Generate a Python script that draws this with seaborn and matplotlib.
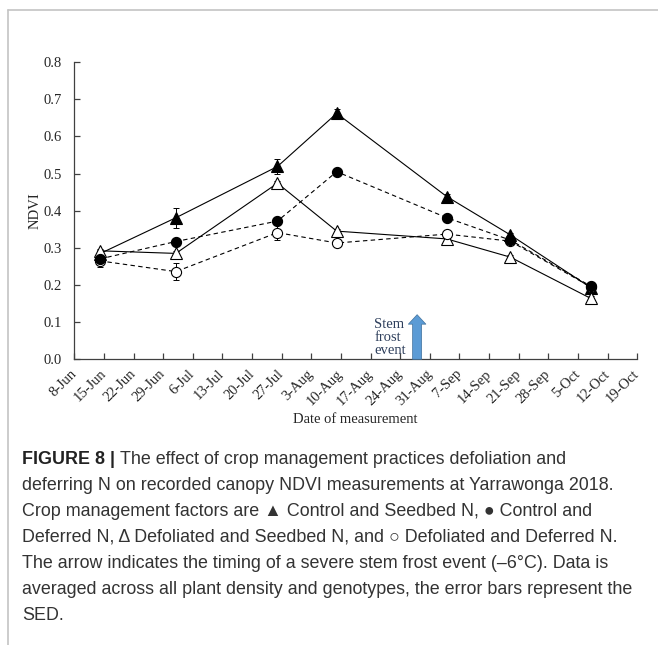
import pandas as pd
import matplotlib.pyplot as plt
import seaborn as sns
from matplotlib.lines import Line2D

dates = pd.to_datetime(['2018-06-14', '2018-07-02', '2018-07-26', '2018-08-09',
                        '2018-09-04', '2018-09-19', '2018-10-08'])

ctrl_seedbed = [0.284, 0.381, 0.519, 0.662, 0.438, 0.335, 0.193]
ctrl_seedbed_err = [0.010, 0.027, 0.021, 0.012, 0.006, 0.006, 0.005]

ctrl_deferred = [0.270, 0.317, 0.372, 0.505, 0.381, 0.321, 0.197]
ctrl_deferred_err = [0.006, 0.006, 0.006, 0.005, 0.005, 0.005, 0.005]

defol_seedbed = [0.292, 0.285, 0.474, 0.345, 0.324, 0.275, 0.164]
defol_seedbed_err = [0.006, 0.006, 0.006, 0.005, 0.005, 0.005, 0.005]

defol_deferred = [0.265, 0.236, 0.341, 0.313, 0.337, 0.318, 0.195]
defol_deferred_err = [0.016, 0.022, 0.020, 0.010, 0.006, 0.006, 0.005]

tick_labels = ['8-Jun', '15-Jun', '22-Jun', '29-Jun', '6-Jul', '13-Jul', '20-Jul',
               '27-Jul', '3-Aug', '10-Aug', '17-Aug', '24-Aug', '31-Aug', '7-Sep',
               '14-Sep', '21-Sep', '28-Sep', '5-Oct', '12-Oct', '19-Oct']

frost_date = pd.Timestamp('2018-08-28')
frost_top = 0.12

sns.set_theme(style='ticks')
plt.rcParams['font.family'] = ['Liberation Serif', 'DejaVu Serif']

fig = plt.figure(figsize=(6.58, 6.45), dpi=100)
ax = fig.add_axes([0.1129, 0.443, 0.8555, 0.4607])

series = [
    (ctrl_seedbed, ctrl_seedbed_err, '^', 'black', '-'),
    (defol_seedbed, defol_seedbed_err, '^', 'white', '-'),
    (defol_deferred, defol_deferred_err, 'o', 'white', (0, (4, 3))),
    (ctrl_deferred, ctrl_deferred_err, 'o', 'black', (0, (4, 3))),
]

for vals, errs, mk, face, ls in series:
    df = pd.DataFrame({'date': dates, 'ndvi': vals})
    ax.errorbar(dates, vals, yerr=errs, fmt='none', ecolor='black',
                elinewidth=0.7, capsize=2.5, capthick=0.7, zorder=2)
    sns.lineplot(data=df, x='date', y='ndvi', ax=ax, color='black', linewidth=0.8,
                 linestyle=ls, marker=mk, markersize=8 if mk == '^' else 7.3,
                 markerfacecolor=face, markeredgecolor='black',
                 markeredgewidth=0.8, errorbar=None, zorder=3)

# frost arrow
ax.annotate('', xy=(frost_date, frost_top), xytext=(frost_date, 0.0),
            arrowprops=dict(arrowstyle='simple,head_length=0.65,head_width=1.2,tail_width=0.62',
                            fc='#5B9BD5', ec='#41719C', lw=0.5, mutation_scale=10.5,
                            shrinkA=0, shrinkB=0), zorder=4)
ax.text(pd.Timestamp('2018-06-08') + pd.Timedelta(days=70.9), 0.006,
        'Stem\nfrost\nevent', fontsize=10.5, color='#2E3F5C', ha='left', va='bottom',
        linespacing=1.0)

tick_dates = pd.date_range('2018-06-08', periods=20, freq='7D')
ax.set_xlim(tick_dates[0], tick_dates[-1])
ax.set_xticks(tick_dates)
ax.set_xticklabels(tick_labels, rotation=45, ha='right', rotation_mode='anchor',
                   va='center', fontsize=10.5)
ax.set_ylim(0, 0.8)
ax.set_yticks([0, 0.1, 0.2, 0.3, 0.4, 0.5, 0.6, 0.7, 0.8])
ax.set_yticklabels(['0.0', '0.1', '0.2', '0.3', '0.4', '0.5', '0.6', '0.7', '0.8'], fontsize=10.5)
ax.tick_params(axis='x', direction='in', length=4, width=0.9, color='#404040', pad=9)
ax.tick_params(axis='y', direction='in', length=4, width=0.9, color='#404040', pad=9)
for side in ['left', 'bottom']:
    ax.spines[side].set_color('#404040')
    ax.spines[side].set_linewidth(0.9)
sns.despine(ax=ax)

ax.set_xlabel('Date of measurement', fontsize=10.5, labelpad=4)
ax.set_ylabel('NDVI', fontsize=10.5, labelpad=1)

# page frame
fig.add_artist(Line2D([8 / 658, 1], [1 - 10 / 645, 1 - 10 / 645], color='#c4c4c4', lw=1.2))
fig.add_artist(Line2D([8 / 658, 8 / 658], [0, 1 - 10 / 645], color='#c4c4c4', lw=1.2))

# caption
cap_font = ['Liberation Sans', 'DejaVu Sans']
cap_size = 12.9
cap_x = 22 / 658
lines = [
    'deferring N on recorded canopy NDVI measurements at Yarrawonga 2018.',
    'Crop management factors are \u25B2 Control and Seedbed N, \u25CF Control and',
    'Deferred N, \u0394 Defoliated and Seedbed N, and \u25CB Defoliated and Deferred N.',
    'The arrow indicates the timing of a severe stem frost event (\u20136\u00B0C). Data is',
    'averaged across all plant density and genotypes, the error bars represent the',
    'SED.',
]
y0 = 459
bold = fig.text(cap_x, 1 - y0 / 645, 'FIGURE 8 |', fontsize=cap_size, fontweight='bold',
                family=cap_font, color='#222222', va='center')
fig.canvas.draw()
bb = bold.get_window_extent(renderer=fig.canvas.get_renderer())
fig.text(bb.x1 / fig.bbox.width + 5 / 658, 1 - y0 / 645,
         'The effect of crop management practices defoliation and',
         fontsize=cap_size, family=cap_font, color='#333333', va='center')
for i, line in enumerate(lines):
    fig.text(cap_x, 1 - (y0 + 26 * (i + 1)) / 645, line, fontsize=cap_size,
             family=cap_font, color='#333333', va='center')

fig.savefig('out.png', dpi=100)
